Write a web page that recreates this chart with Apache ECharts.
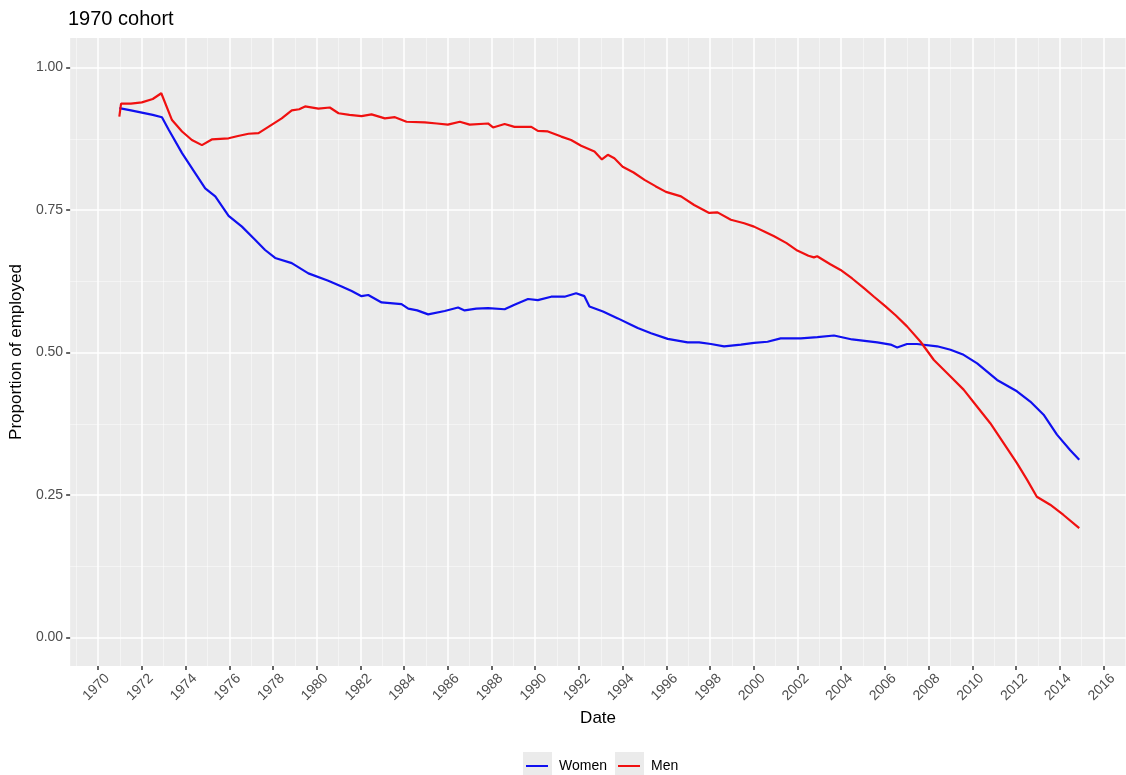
<!DOCTYPE html>
<html>
<head>
<meta charset="utf-8">
<title>1970 cohort</title>
<script src="https://cdn.jsdelivr.net/npm/echarts@6.0.0/dist/echarts.min.js"></script>
<style>
  html, body { margin: 0; padding: 0; background: #fff; }
  #chart { width: 1126px; height: 775px; }
</style>
</head>
<body>
<div id="chart"></div>
<script>
// tick positions
var yearTicks = [1970, 1972, 1974, 1976, 1978, 1980, 1982, 1984, 1986, 1988, 1990, 1992,
  1994, 1996, 1998, 2000, 2002, 2004, 2006, 2008, 2010, 2012, 2014, 2016]
var yearMinor = [1969, 1971, 1973, 1975, 1977, 1979, 1981, 1983, 1985, 1987, 1989, 1991, 1993,
  1995, 1997, 1999, 2001, 2003, 2005, 2007, 2009, 2011, 2013, 2015, 2017]
var propTicks = [0, 0.25, 0.5, 0.75, 1]
var propMinor = [0.125, 0.375, 0.625, 0.875]

// Women (decimal year / proportion employed)
var womenYears = [1970.97, 1971.5, 1972.0, 1972.5, 1972.92, 1973.23, 1973.84, 1974.44, 1974.9, 1975.36,
  1975.97, 1976.58, 1977.18, 1977.64, 1978.1, 1978.86, 1979.62, 1980.53, 1981.14, 1981.6,
  1982.05, 1982.36, 1982.97, 1983.88, 1984.19, 1984.6, 1985.1, 1985.86, 1986.47, 1986.77,
  1987.3, 1987.84, 1988.6, 1989.05, 1989.67, 1990.12, 1990.73, 1991.34, 1991.87, 1992.25,
  1992.48, 1993.1, 1993.78, 1994.38, 1994.69, 1995.3, 1996.06, 1996.97, 1997.5, 1998.04,
  1998.64, 1999.41, 2000.01, 2000.63, 2001.23, 2002.15, 2002.91, 2003.67, 2004.5, 2005.65,
  2006.26, 2006.56, 2007.01, 2007.47, 2008.39, 2009.0, 2009.6, 2010.22, 2011.13, 2012.04,
  2012.65, 2013.26, 2013.87, 2014.47, 2014.89]
var womenValues = [0.929, 0.925, 0.921, 0.917, 0.913, 0.891, 0.850, 0.815, 0.788, 0.774,
  0.740, 0.721, 0.698, 0.680, 0.666, 0.657, 0.639, 0.626, 0.616, 0.608,
  0.599, 0.601, 0.588, 0.585, 0.577, 0.574, 0.567, 0.573, 0.579, 0.574,
  0.577, 0.578, 0.576, 0.584, 0.594, 0.592, 0.598, 0.598, 0.604, 0.599,
  0.581, 0.572, 0.560, 0.549, 0.543, 0.534, 0.524, 0.518, 0.518, 0.515,
  0.511, 0.514, 0.517, 0.519, 0.525, 0.525, 0.527, 0.530, 0.523, 0.518,
  0.514, 0.509, 0.515, 0.515, 0.511, 0.505, 0.496, 0.481, 0.452, 0.432,
  0.414, 0.391, 0.356, 0.329, 0.312]

// Men
var menYears = [1970.97, 1971.05, 1971.5, 1972.0, 1972.5, 1972.89, 1973.38, 1973.84, 1974.29, 1974.75,
  1975.2, 1975.97, 1976.4, 1976.88, 1977.34, 1977.79, 1978.4, 1978.86, 1979.2, 1979.47,
  1980.08, 1980.6, 1981.0, 1981.5, 1982.05, 1982.51, 1983.12, 1983.58, 1984.11, 1984.95,
  1985.5, 1986.0, 1986.55, 1987.0, 1987.84, 1988.07, 1988.6, 1989.05, 1989.82, 1990.12,
  1990.58, 1991.19, 1991.64, 1992.1, 1992.71, 1993.05, 1993.32, 1993.62, 1994.0, 1994.5,
  1995.0, 1995.5, 1995.98, 1996.67, 1997.27, 1997.96, 1998.34, 1998.95, 1999.56, 2000.01,
  2000.5, 2000.93, 2001.5, 2001.99, 2002.5, 2002.75, 2002.9, 2003.5, 2003.97, 2004.5,
  2005.04, 2005.5, 2006.0, 2006.5, 2007.01, 2007.63, 2008.24, 2009.0, 2009.6, 2010.22,
  2010.82, 2011.43, 2012.04, 2012.5, 2012.95, 2013.56, 2014.17, 2014.89]
var menValues = [0.914, 0.937, 0.937, 0.939, 0.945, 0.955, 0.908, 0.888, 0.873, 0.864,
  0.874, 0.876, 0.880, 0.884, 0.885, 0.896, 0.911, 0.925, 0.927, 0.932,
  0.928, 0.930, 0.920, 0.917, 0.915, 0.918, 0.911, 0.913, 0.905, 0.904,
  0.902, 0.900, 0.905, 0.900, 0.902, 0.895, 0.901, 0.896, 0.896, 0.889,
  0.888, 0.879, 0.873, 0.863, 0.853, 0.839, 0.847, 0.841, 0.826, 0.816,
  0.803, 0.792, 0.782, 0.774, 0.759, 0.745, 0.746, 0.733, 0.727, 0.721,
  0.712, 0.704, 0.692, 0.679, 0.670, 0.667, 0.669, 0.655, 0.645, 0.630,
  0.613, 0.598, 0.582, 0.565, 0.546, 0.519, 0.487, 0.458, 0.435, 0.405,
  0.376, 0.341, 0.306, 0.277, 0.247, 0.233, 0.215, 0.192]

function pairs (xs, ys) {
  return xs.map(function (x, i) { return [x, ys[i]] })
}

var xMin = 1968.72, xMax = 2017.03
var yMin = -0.05, yMax = 1.052
var grey = '#4D4D4D'
var font = 'Liberation Sans, Arial, sans-serif'

var myChart = echarts.init(document.getElementById('chart'))

var option = {
  backgroundColor: '#fff',
  animation: false,
  title: {
    text: '1970 cohort',
    left: 68,
    top: 9,
    padding: 0,
    textStyle: { color: '#000', fontSize: 20, fontWeight: 'normal', fontFamily: font }
  },
  legend: {
    left: 526,
    top: 759,
    padding: 0,
    itemGap: 11,
    itemWidth: 22,
    itemHeight: 2,
    icon: 'rect',
    data: ['Women', 'Men'],
    textStyle: { color: '#000', fontSize: 14, fontFamily: font, padding: [0, 0, 0, 6] }
  },
  graphic: [
    { type: 'rect', z: -1, shape: { x: 523, y: 752, width: 29, height: 24 }, style: { fill: '#EBEBEB' } },
    { type: 'rect', z: -1, shape: { x: 615, y: 752, width: 29, height: 24 }, style: { fill: '#EBEBEB' } }
  ],
  grid: {
    left: 68, right: 0, top: 38, bottom: 109,
    show: true, backgroundColor: '#EBEBEB', borderWidth: 0
  },
  xAxis: [{
    type: 'value', min: xMin, max: xMax,
    name: 'Date', nameLocation: 'middle', nameGap: 41,
    nameTextStyle: { color: '#000', fontSize: 17, fontFamily: font },
    axisLine: { show: false, onZero: false },
    axisTick: { show: true, length: 4, customValues: yearTicks, lineStyle: { color: '#333', width: 1.5 } },
    axisLabel: {
      customValues: yearTicks, rotate: 45, margin: 1,
      verticalAlign: 'top', padding: [6, 0, 0, 0],
      color: grey, fontSize: 14, fontFamily: font,
      formatter: function (v) { return String(v) }
    },
    splitLine: { show: true, lineStyle: { color: '#fff', width: 1.5 } }
  }, {
    type: 'value', min: xMin, max: xMax, position: 'bottom',
    axisLine: { show: false, onZero: false },
    axisTick: { show: false, customValues: yearMinor },
    axisLabel: { show: false, customValues: yearMinor },
    splitLine: { show: true, lineStyle: { color: 'rgba(255,255,255,0.6)', width: 0.8 } }
  }],
  yAxis: [{
    type: 'value', min: yMin, max: yMax,
    name: 'Proportion of employed', nameLocation: 'middle', nameGap: 40,
    nameTextStyle: { color: '#000', fontSize: 17, fontFamily: font },
    axisLine: { show: false, onZero: false },
    axisTick: { show: true, length: 4, customValues: propTicks, lineStyle: { color: '#333', width: 1.5 } },
    axisLabel: {
      customValues: propTicks, margin: 7,
      color: grey, fontSize: 14, fontFamily: font,
      formatter: function (v) { return v.toFixed(2) }
    },
    splitLine: { show: true, lineStyle: { color: '#fff', width: 1.5 } }
  }, {
    type: 'value', min: yMin, max: yMax, position: 'left',
    axisLine: { show: false, onZero: false },
    axisTick: { show: false, customValues: propMinor },
    axisLabel: { show: false, customValues: propMinor },
    splitLine: { show: true, lineStyle: { color: 'rgba(255,255,255,0.6)', width: 0.8 } }
  }],
  series: [{
    name: 'Women',
    type: 'line',
    showSymbol: false,
    symbol: 'none',
    color: '#1010F0',
    lineStyle: { width: 2.2 },
    data: pairs(womenYears, womenValues)
  }, {
    name: 'Men',
    type: 'line',
    showSymbol: false,
    symbol: 'none',
    color: '#F01010',
    lineStyle: { width: 2.2 },
    data: pairs(menYears, menValues)
  }]
}

myChart.setOption(option)
window.addEventListener('resize', function () {
  myChart.resize()
})
</script>
</body>
</html>
